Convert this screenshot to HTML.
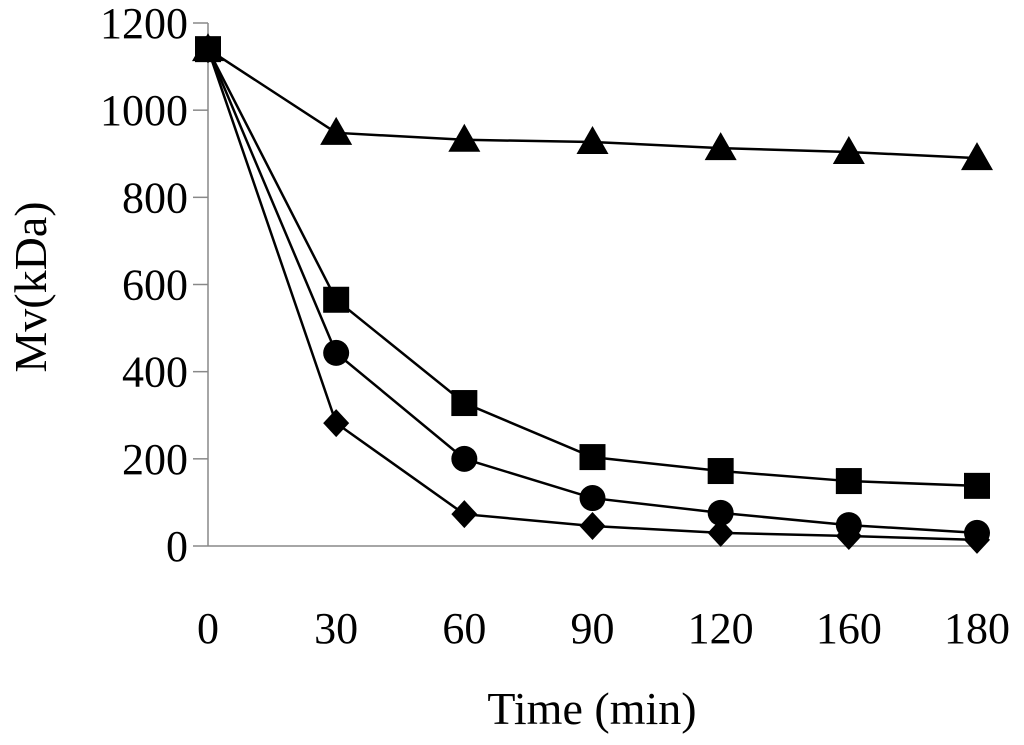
<!DOCTYPE html>
<html><head><meta charset="utf-8"><style>
html,body{margin:0;padding:0;background:#fff;}
svg{display:block;font-family:"Liberation Serif",serif;}
</style></head><body>
<svg id="chart" width="1024" height="745"></svg>
<script>
const categories=["0","30","60","90","120","160","180"];
const yTicks=[0,200,400,600,800,1000,1200];
const triangleSeries=[1140,948,932,927,913,904,890];
const squareSeries=[1140,565,328,204,172,149,138];
const circleSeries=[1140,443,200,110,76,48,30];
const diamondSeries=[1140,282,73,46,30,23,14];
const NS="http://www.w3.org/2000/svg";
const svg=document.getElementById('chart');
const x0=208,x1=977,y0=546,y1=23,ymax=1200;
const xs=i=>x0+i*(x1-x0)/(categories.length-1);
const ys=v=>y0-v*(y0-y1)/ymax;
function el(t,a,p){const e=document.createElementNS(NS,t);for(const k in a)e.setAttribute(k,a[k]);(p||svg).appendChild(e);return e;}
const ax=el('line',{x1:x0,y1:y1,x2:x0,y2:y0,stroke:'#888','stroke-width':1.5});


const bx=el('line',{x1:x0,y1:y0,x2:x1+5,y2:y0,stroke:'#888','stroke-width':1.5});


yTicks.forEach(v=>{
  const tk=el('line',{x1:x0-15,y1:ys(v),x2:x0,y2:ys(v),stroke:'#888','stroke-width':1.5});
  
  
  const t=el('text',{x:188,y:ys(v)+15,'text-anchor':'end','font-size':44});
  t.textContent=v;
  
  
});
categories.forEach((c,i)=>{
  const t=el('text',{x:xs(i),y:643,'text-anchor':'middle','font-size':44});
  t.textContent=c;
  
  
});
const xt=el('text',{x:592,y:724,'text-anchor':'middle','font-size':46});
xt.textContent='Time (min)';


const yt=el('text',{x:0,y:0,'text-anchor':'middle','font-size':46,transform:'translate(46,287) rotate(-90)'});
yt.textContent='Mv(kDa)';


function marker(shape,x,y,g){
  let m;
  if(shape==='tri') m=el('polygon',{points:`${x},${y-16} ${x+16},${y+12} ${x-16},${y+12}`},g);
  else if(shape==='sq') m=el('rect',{x:x-13,y:y-13,width:26,height:26},g);
  else if(shape==='ci') m=el('circle',{cx:x,cy:y,r:13},g);
  else m=el('polygon',{points:`${x},${y-14} ${x+13},${y} ${x},${y+14} ${x-13},${y}`},g);
  m.setAttribute('fill','#000');
  return m;
}
[[triangleSeries,'tri','triangle-series'],[diamondSeries,'di','diamond-series'],[circleSeries,'ci','circle-series'],[squareSeries,'sq','square-series']].forEach(([d,s,n])=>{
  const g=el('g',{});
  
  
  const l=el('polyline',{points:d.map((v,i)=>xs(i)+','+ys(v)).join(' '),fill:'none',stroke:'#000','stroke-width':2.5},g);
  
  
  d.forEach((v,i)=>{
    const m=marker(s,xs(i),ys(v),g);
    
    
  });
});
</script>
</body></html>
